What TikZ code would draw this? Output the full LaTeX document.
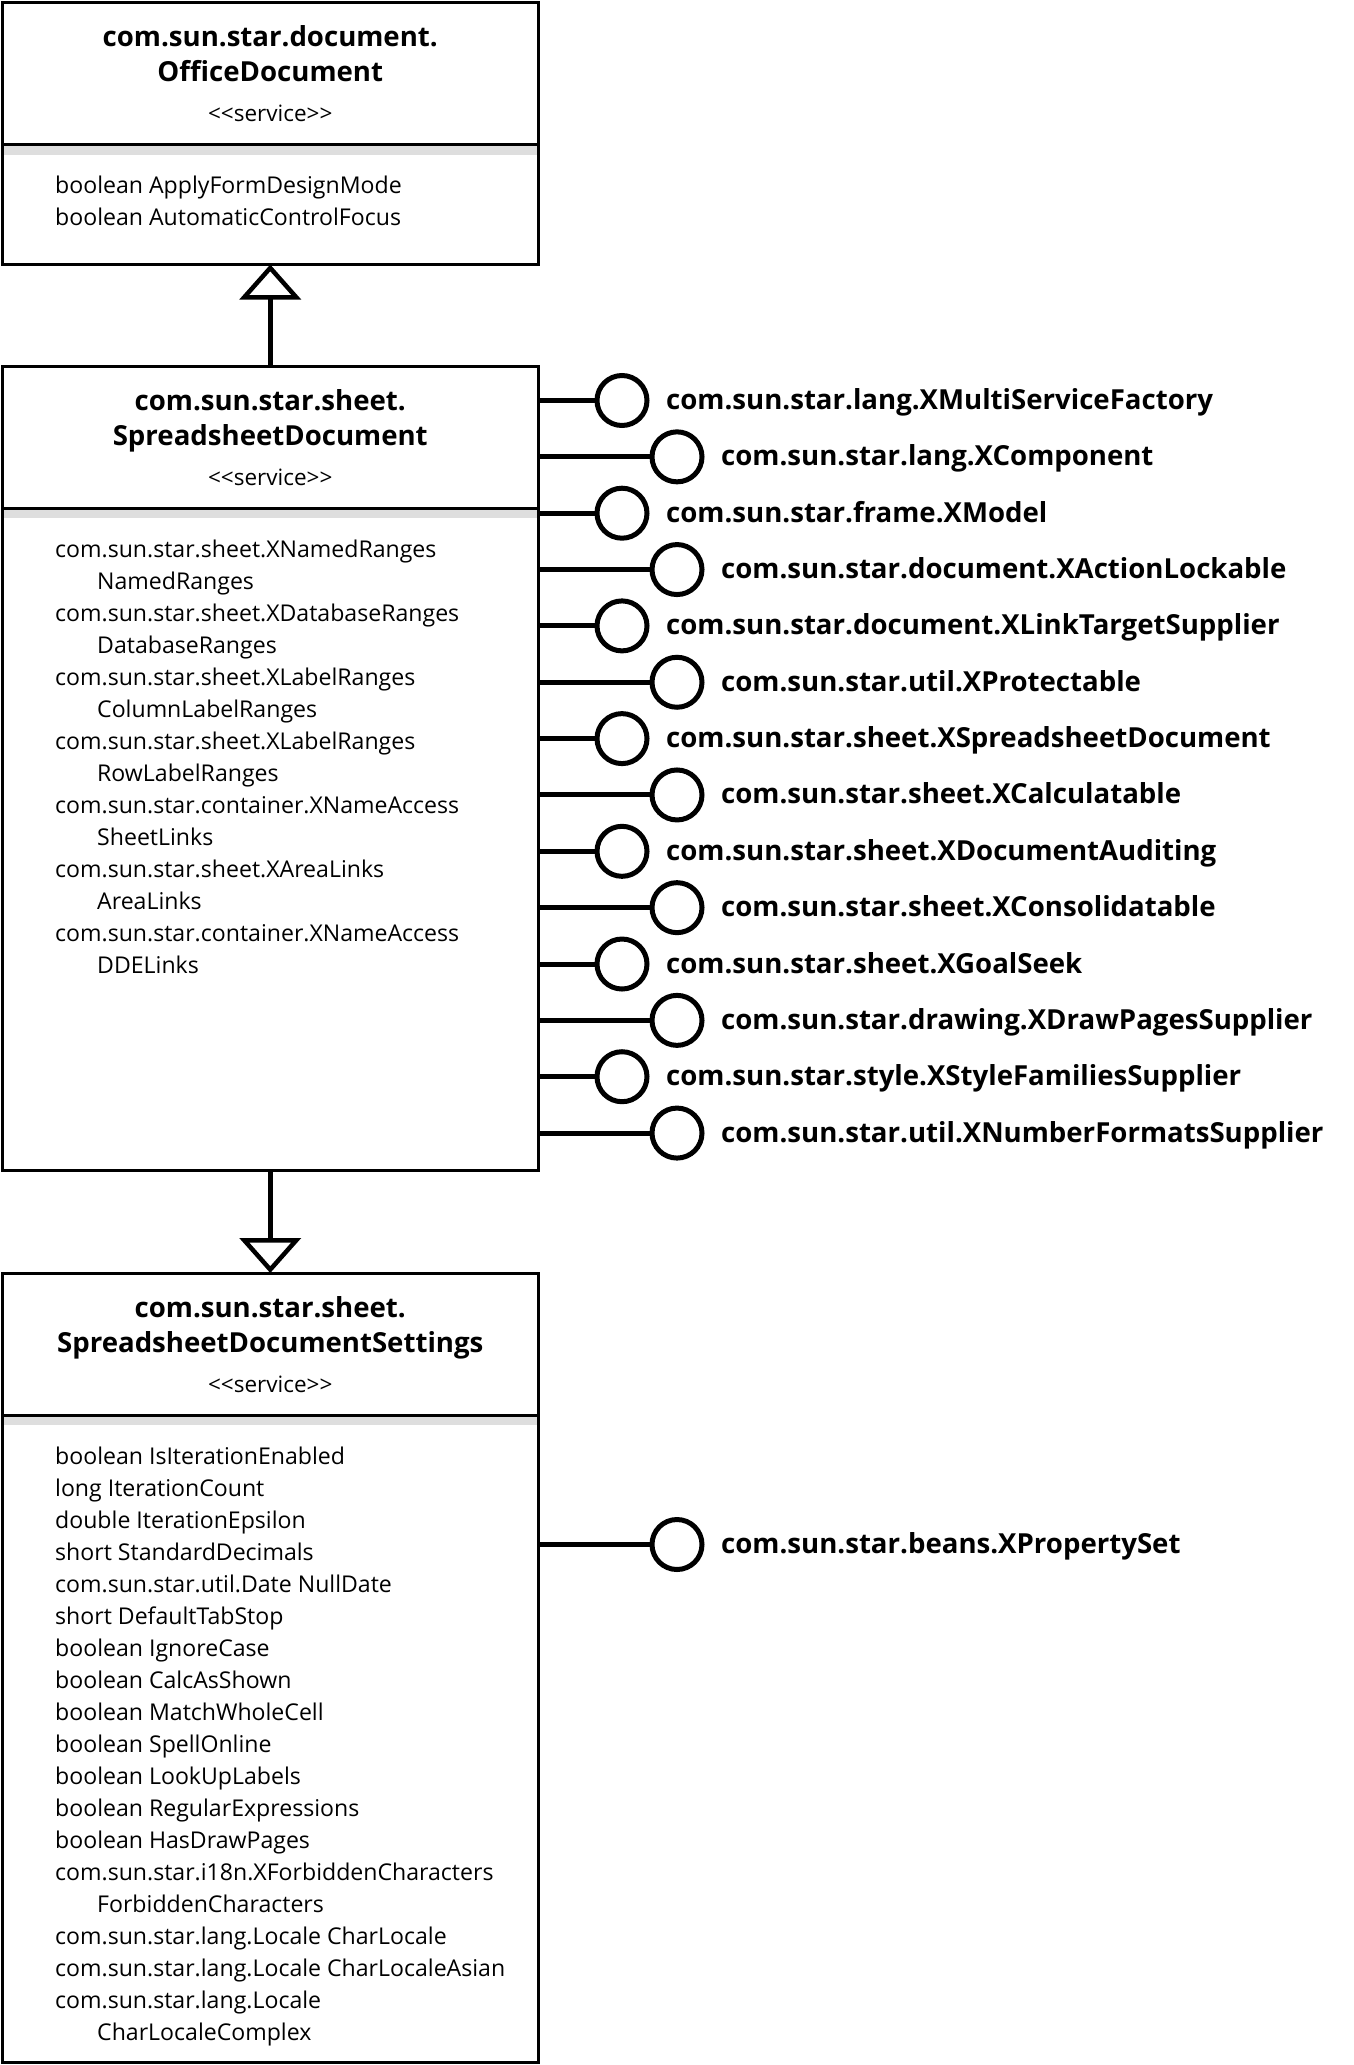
\documentclass[tikz,border=0pt]{standalone}
\usepackage{fontspec}
\setmainfont{Open Sans}
\usetikzlibrary{arrows.meta}
\begin{document}
\begin{tikzpicture}[x=1pt,y=-1pt,
  umlbox/.style={draw, line width=3pt, minimum width=535.5pt, inner sep=0pt, outer sep=0pt},
  sepline/.style={line width=3pt},
  band/.style={fill=black!13},
  title/.style={font=\fontsize{27.6}{33}\selectfont\bfseries, inner sep=0pt, anchor=base},
  stereo/.style={font=\fontsize{22.5}{27}\selectfont\addfontfeatures{Ligatures=TeXOff}, inner sep=0pt, anchor=base},
  attr/.style={font=\fontsize{23.1}{28}\selectfont, inner sep=0pt, anchor=base west},
  iface/.style={draw, circle, line width=5pt, minimum size=50pt, inner sep=0pt},
  ilabel/.style={font=\fontsize{27.6}{33}\selectfont\bfseries, inner sep=0pt, anchor=base west},
  conn/.style={line width=5pt},
  inherit/.style={line width=4.5pt, -{Triangle[open, length=35pt, width=61pt]}}
]
\useasboundingbox (0,0) rectangle (1354,2065);

% ---------- OfficeDocument ----------
\fill[band] (4,146) rectangle (536.5,155);
\node[umlbox, minimum height=262pt, anchor=north west] (office) at (2.5,2.5) {};
\draw[sepline] (office.west |- 0,144.5) -- (office.east |- 0,144.5);
\node[title] (officeT1) at (270.25,46.5) {com.sun.star.document.};
\node[title] (officeT2) at (270.25,81.5) {OfficeDocument};
\node[stereo] (officeS) at (270.25,121.5) {<<service>>};
\node[attr] (oa1) at (55,193.5) {boolean ApplyFormDesignMode};
\node[attr] (oa2) at (55,225.5) {boolean AutomaticControlFocus};

% ---------- SpreadsheetDocument ----------
\fill[band] (4,509.5) rectangle (536.5,518);
\node[umlbox, minimum height=804pt, anchor=north west] (sheet) at (2.5,366) {};
\draw[sepline] (sheet.west |- 0,508) -- (sheet.east |- 0,508);
\node[title] (sheetT1) at (270.25,410) {com.sun.star.sheet.};
\node[title] (sheetT2) at (270.25,445) {SpreadsheetDocument};
\node[stereo] (sheetS) at (270.25,485) {<<service>>};
\foreach \ind/\t [count=\i] in {
  0/com.sun.star.sheet.XNamedRanges, 1/NamedRanges,
  0/com.sun.star.sheet.XDatabaseRanges, 1/DatabaseRanges,
  0/com.sun.star.sheet.XLabelRanges, 1/ColumnLabelRanges,
  0/com.sun.star.sheet.XLabelRanges, 1/RowLabelRanges,
  0/com.sun.star.container.XNameAccess, 1/SheetLinks,
  0/com.sun.star.sheet.XAreaLinks, 1/AreaLinks,
  0/com.sun.star.container.XNameAccess, 1/DDELinks}{
  \node[attr] (sa\i) at (55+42*\ind, 557+32*\i-32) {\t};
}

% ---------- SpreadsheetDocumentSettings ----------
\fill[band] (4,1416.5) rectangle (536.5,1425);
\node[umlbox, minimum height=789pt, anchor=north west] (settings) at (2.5,1273) {};
\draw[sepline] (settings.west |- 0,1415) -- (settings.east |- 0,1415);
\node[title] (setT1) at (270.25,1317) {com.sun.star.sheet.};
\node[title] (setT2) at (270.25,1352) {SpreadsheetDocumentSettings};
\node[stereo] (setS) at (270.25,1392) {<<service>>};
\foreach \ind/\t [count=\i] in {
  0/boolean IsIterationEnabled, 0/long IterationCount,
  0/double IterationEpsilon, 0/short StandardDecimals,
  0/com.sun.star.util.Date NullDate, 0/short DefaultTabStop,
  0/boolean IgnoreCase, 0/boolean CalcAsShown,
  0/boolean MatchWholeCell, 0/boolean SpellOnline,
  0/boolean LookUpLabels, 0/boolean RegularExpressions,
  0/boolean HasDrawPages, 0/com.sun.star.i18n.XForbiddenCharacters,
  1/ForbiddenCharacters, 0/com.sun.star.lang.Locale CharLocale,
  0/com.sun.star.lang.Locale CharLocaleAsian, 0/com.sun.star.lang.Locale,
  1/CharLocaleComplex}{
  \node[attr] (ta\i) at (55+42*\ind, 1464+32*\i-32) {\t};
}

% ---------- inheritance ----------
\draw[inherit] (sheet.north) -- (office.south);
\draw[inherit] (sheet.south) -- (settings.north);

% ---------- interfaces of SpreadsheetDocument ----------
\foreach \t [count=\i] in {
  com.sun.star.lang.XMultiServiceFactory,
  com.sun.star.lang.XComponent,
  com.sun.star.frame.XModel,
  com.sun.star.document.XActionLockable,
  com.sun.star.document.XLinkTargetSupplier,
  com.sun.star.util.XProtectable,
  com.sun.star.sheet.XSpreadsheetDocument,
  com.sun.star.sheet.XCalculatable,
  com.sun.star.sheet.XDocumentAuditing,
  com.sun.star.sheet.XConsolidatable,
  com.sun.star.sheet.XGoalSeek,
  com.sun.star.drawing.XDrawPagesSupplier,
  com.sun.star.style.XStyleFamiliesSupplier,
  com.sun.star.util.XNumberFormatsSupplier}{
  \pgfmathsetmacro\yy{400.5+56.35*(\i-1)}
  \pgfmathsetmacro\cx{mod(\i,2)==1 ? 622 : 677}
  \node[iface] (c\i) at (\cx,\yy) {};
  \draw[conn] (sheet.east |- c\i) -- (c\i.west);
  \node[ilabel] (l\i) at (\cx+44,\yy+9) {\t};
}

% ---------- interface of SpreadsheetDocumentSettings ----------
\node[iface] (cps) at (677,1544.5) {};
\draw[conn] (settings.east |- cps) -- (cps.west);
\node[ilabel] (lps) at (721,1553.5) {com.sun.star.beans.XPropertySet};
\end{tikzpicture}
\end{document}
